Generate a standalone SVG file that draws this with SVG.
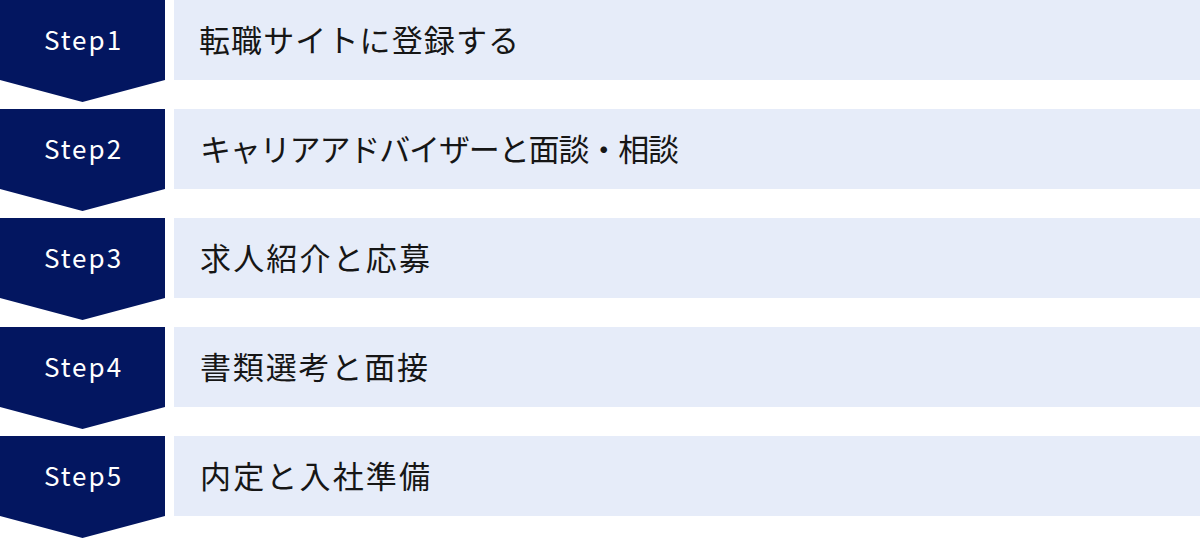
<svg xmlns="http://www.w3.org/2000/svg" width="1200" height="538" viewBox="0 0 1200 538">
<defs>
<style>
.badge{fill:#031660}
.bar{fill:#e6ecf9}
.step{font-family:"Noto Sans CJK JP","Noto Sans",sans-serif;font-size:26px;fill:#ffffff;letter-spacing:2px;text-anchor:middle}
.label{font-family:"Noto Sans CJK JP","Noto Sans",sans-serif;font-size:31px;fill:#161616}
</style>
<polygon id="arrow" points="0,0 165,0 165,80 82.5,102 0,80"/>
</defs>
<rect width="1200" height="538" fill="#ffffff"/>
<g id="connectors"></g>
<g id="step1">
<use href="#arrow" class="badge" y="0"/>
<rect class="bar" x="174" y="0" width="1026" height="80"/>
<text class="step" x="83.5" y="50">Step1</text>
<text class="label" x="199" y="52" textLength="320" lengthAdjust="spacing">転職サイトに登録する</text>
</g>
<g id="step2">
<use href="#arrow" class="badge" y="109"/>
<rect class="bar" x="174" y="109" width="1026" height="80"/>
<text class="step" x="83.5" y="159">Step2</text>
<text class="label" x="200" y="161" textLength="479" lengthAdjust="spacing">キャリアアドバイザーと面談・相談</text>
</g>
<g id="step3">
<use href="#arrow" class="badge" y="218"/>
<rect class="bar" x="174" y="218" width="1026" height="80"/>
<text class="step" x="83.5" y="268">Step3</text>
<text class="label" x="200" y="270" textLength="230" lengthAdjust="spacing">求人紹介と応募</text>
</g>
<g id="step4">
<use href="#arrow" class="badge" y="327"/>
<rect class="bar" x="174" y="327" width="1026" height="80"/>
<text class="step" x="83.5" y="377">Step4</text>
<text class="label" x="200" y="379" textLength="228" lengthAdjust="spacing">書類選考と面接</text>
</g>
<g id="step5">
<use href="#arrow" class="badge" y="436"/>
<rect class="bar" x="174" y="436" width="1026" height="80"/>
<text class="step" x="83.5" y="486">Step5</text>
<text class="label" x="200" y="488" textLength="230" lengthAdjust="spacing">内定と入社準備</text>
</g>
</svg>
